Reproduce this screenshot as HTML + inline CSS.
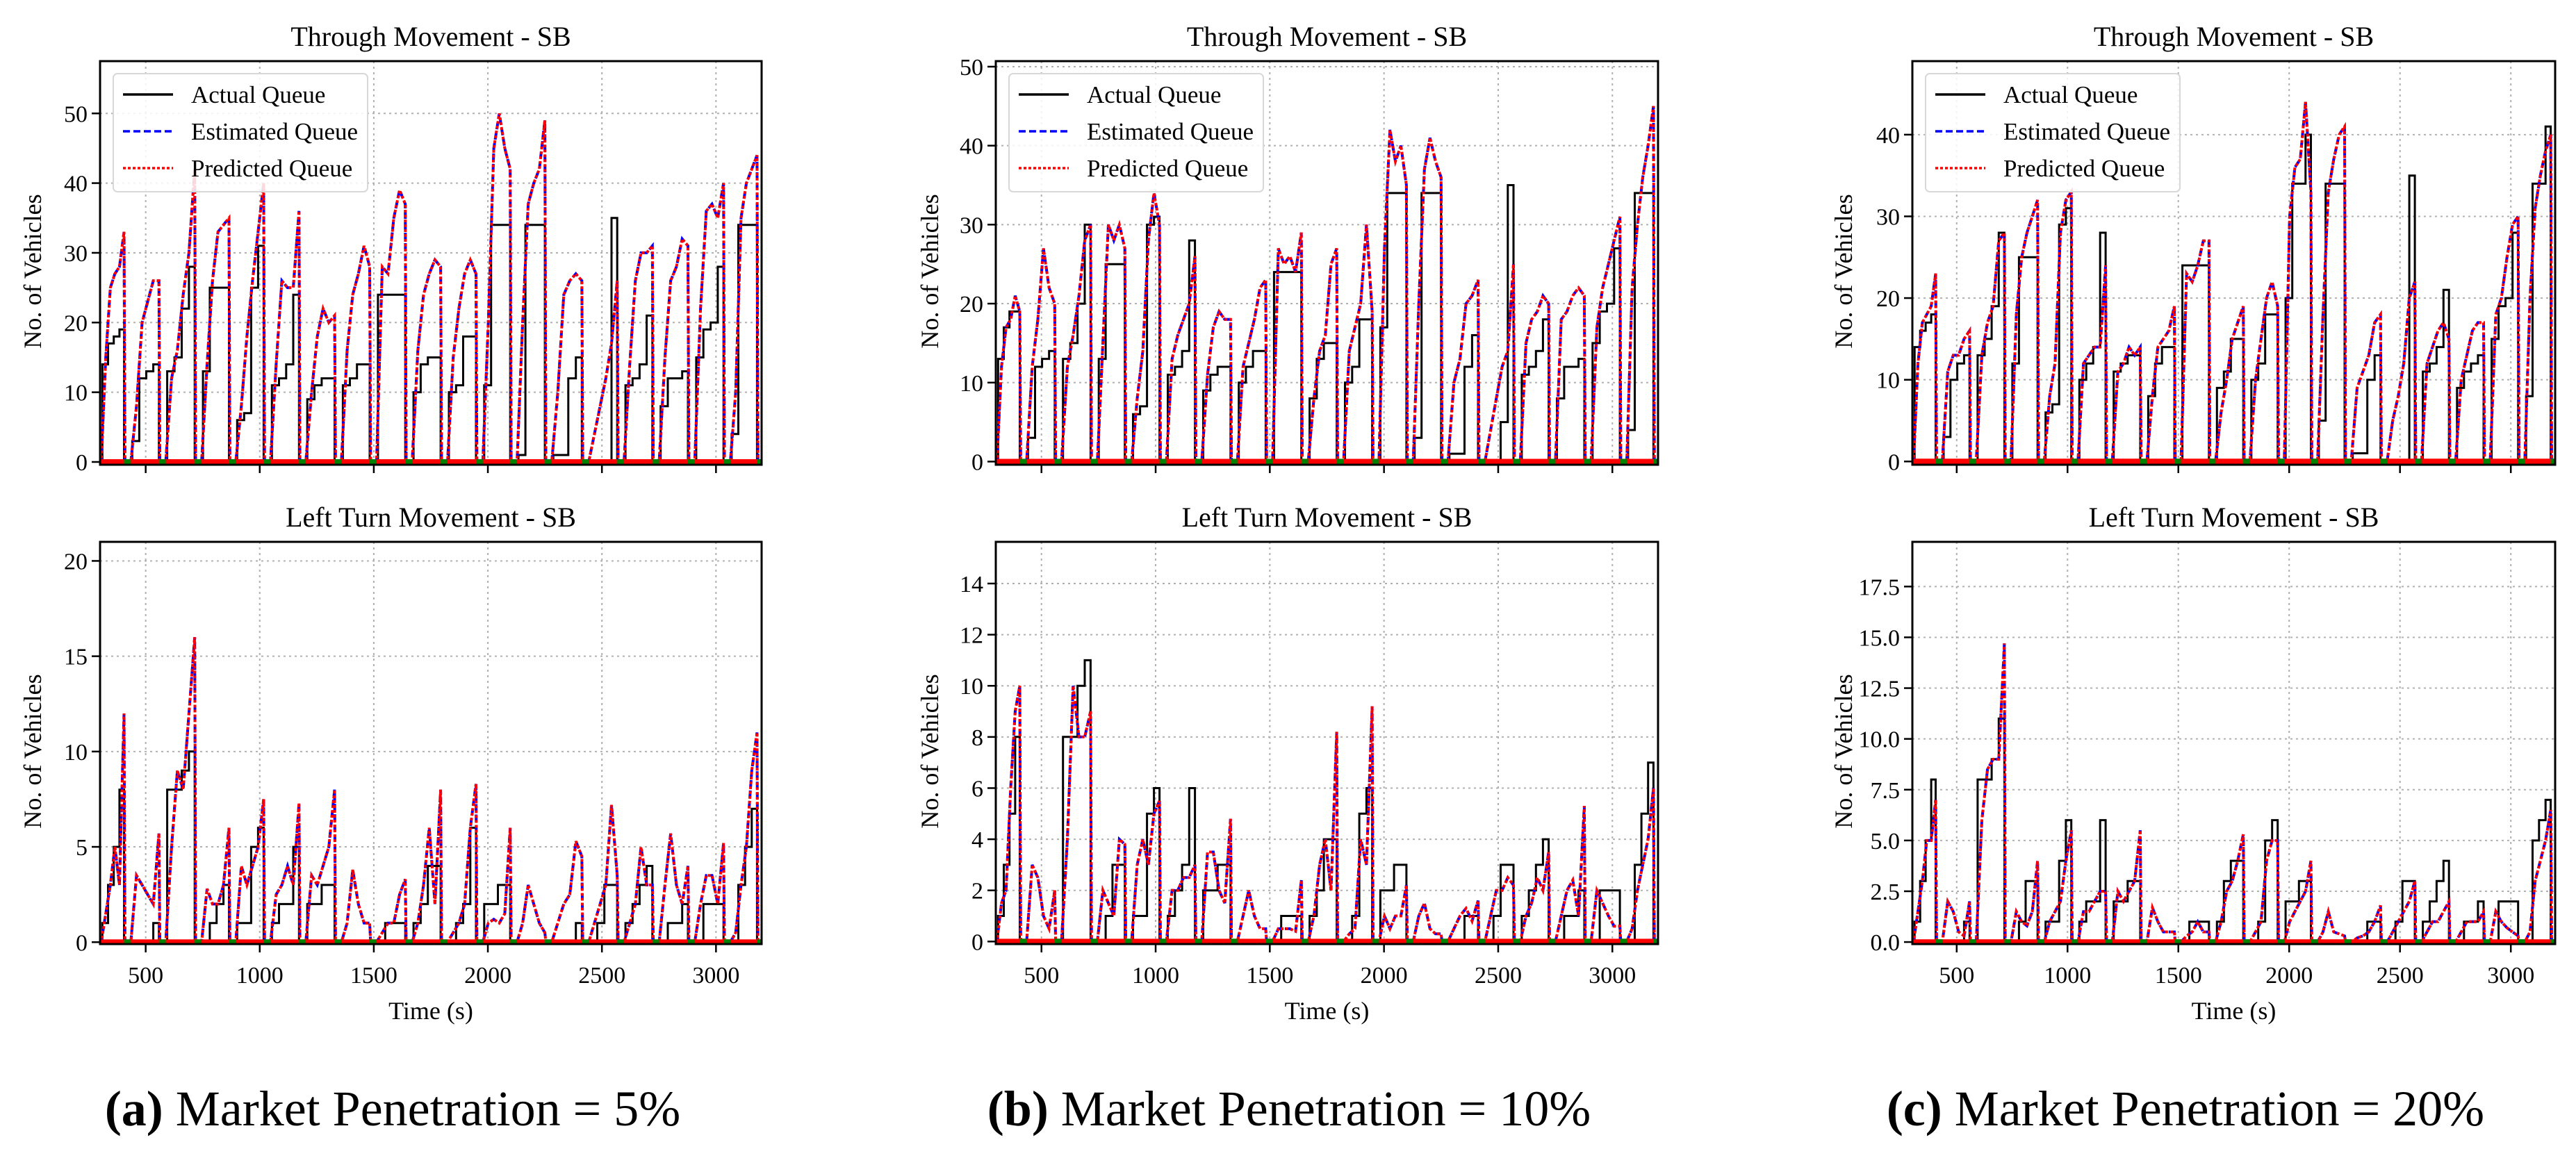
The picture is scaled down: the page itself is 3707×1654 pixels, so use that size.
<!DOCTYPE html>
<html><head><meta charset="utf-8"><style>
html,body{margin:0;padding:0;background:#fff;}
svg{display:block;font-family:"Liberation Serif",serif;}
</style></head><body>
<svg id="fig" width="3707" height="1654" viewBox="0 0 3707 1654" xmlns="http://www.w3.org/2000/svg">
<text x="565" y="1620" font-size="72" text-anchor="middle"><tspan font-weight="bold">(a)</tspan> Market Penetration = 5%</text>
<text x="1855" y="1620" font-size="72" text-anchor="middle"><tspan font-weight="bold">(b)</tspan> Market Penetration = 10%</text>
<text x="3145" y="1620" font-size="72" text-anchor="middle"><tspan font-weight="bold">(c)</tspan> Market Penetration = 20%</text>
</svg>
<script>
// shared signal timing (green start times, s)
const greenStarts = [405,558,715,865,1017,1172,1328,1482,1638,1793,1948,2098,2250,2412,2567,2721,2877,3033,3180];
const xTicks = [500,1000,1500,2000,2500,3000];

// Through movement, 5%
const actTopA = [[14,17,18,19],[3,12,13,14],[13,15,22,28],[13,25,25,25],[6,7,25,31],[11,12,14,24],[9,11,12,12],[11,12,14,14],[24,24,24,24],[10,14,15,15],[10,11,18,18],[11,34,34,34],[1,34,34,34],[1,1,12,15],[0,0,0,35],[11,12,14,21],[8,12,12,13],[15,19,20,28],[4,34,34,34]];
const estTopA = [[15,25,27,28,33],[8,20,23,26,26],[12,16,24,30,42],[14,26,33,34,35],[8,18,26,33,40],[14,26,25,25,36],[10,18,22,20,21],[16,24,27,31,28],[28,27,35,39,37],[16,24,27,29,28],[15,22,27,29,27],[20,45,50,45,42],[20,37,40,42,49],[10,24,26,27,26],[4,8,12,17,26],[14,26,30,30,31],[15,26,28,32,31],[22,36,37,35,40],[10,35,40,42,44]];
// Through movement, 10%
const actTopB = [[13,17,19,19],[3,12,13,14],[13,15,20,30],[13,25,25,25],[6,7,30,31],[11,12,14,28],[9,11,12,12],[10,12,14,14],[24,24,24,24],[8,13,15,15],[10,12,18,18],[17,34,34,34],[3,34,34,34],[1,1,12,16],[0,0,5,35],[11,12,14,18],[8,12,12,13],[15,19,20,27],[4,34,34,34]];
const estTopB = [[12,17,18,21,19],[12,18,27,22,20],[12,16,21,28,30],[15,30,28,30,27],[8,14,28,34,30],[13,16,18,20,26],[11,17,19,18,18],[12,15,18,22,23],[27,25,26,24,29],[8,14,16,25,27],[14,17,20,30,19],[27,42,38,40,35],[20,37,41,38,36],[10,13,20,21,23],[4,8,12,14,25],[15,18,19,21,20],[18,19,21,22,21],[17,22,25,28,31],[22,30,36,40,45]];
// Through movement, 20%
const actTopC = [[14,16,17,18],[3,10,12,13],[13,15,19,28],[12,25,25,25],[6,7,29,31],[10,12,14,28],[11,12,13,13],[8,12,14,14],[24,24,24,24],[9,11,15,15],[10,12,18,18],[20,34,34,40],[5,34,34,34],[1,1,10,13],[0,0,0,35],[11,12,14,21],[9,11,12,13],[15,19,20,28],[8,34,34,41]];
const estTopC = [[12,17,18,19,23],[11,13,13,15,16],[13,17,19,27,28],[18,25,28,30,32],[8,12,28,32,33],[12,13,14,14,24],[11,12,14,13,14],[8,14,15,16,19],[23,22,24,27,27],[6,10,15,17,19],[10,15,20,22,19],[30,36,37,44,33],[18,33,37,40,41],[9,11,13,17,18],[5,8,12,20,22],[12,14,16,17,15],[10,13,16,17,17],[18,20,25,29,30],[20,31,35,38,40]];
// Left turn, 5%
const actBotA = [[1,3,5,8],[0,0,0,1],[8,8,9,10],[0,1,2,3],[1,1,5,6],[1,2,2,5],[2,2,3,3],[0,0,0,0],[0,1,1,1],[1,2,4,4],[0,1,2,6],[2,2,3,3],[0,0,0,0],[0,0,0,1],[0,1,3,3],[1,2,3,4],[0,1,1,2],[0,2,2,2],[0,3,5,7]];
const estBotA = [[1.5,3,5,3,12],[3.5,3,2.5,2,5.7],[5,9,8,12,16],[2.8,2,2,3,6],[4,3,4,5,7.5],[2.5,3,4,3,7.3],[3.5,3,4,5,8],[1,3.8,2,1,1],[0.5,1,1,2.5,3.3],[1,3,6,2,8],[0.5,1,2,6,8.3],[1,1.2,1,1.5,6],[1,3,2,1,0.5],[1,2,2.5,5.3,4.5],[1,2,3,7.2,3.5],[1,2,5,3,3],[3,5.7,3,2,4],[2,3.5,3.5,2,5.2],[0.5,3,5,9,11]];
// Left turn, 10%
const actBotB = [[1,3,5,8],[0,0,0,0],[8,8,10,11],[0,1,3,3],[1,1,5,6],[1,2,3,6],[2,2,3,3],[0,0,0,0],[0,1,1,1],[1,2,4,4],[0,1,5,6],[2,2,3,3],[0,0,0,0],[0,0,1,1],[0,1,3,3],[1,2,3,4],[0,1,1,2],[0,2,2,2],[0,3,5,7]];
const estBotB = [[1.5,2,6,9,10],[3,2.5,1,0.5,2],[4,10,8,8,9],[2,1.5,1,4,3.8],[3,4,3,5,5.5],[2,2,2.5,2.5,3],[3.5,3.5,2,1.5,4.8],[1,2,1,0.5,0.5],[0.5,0.5,0.5,0.4,2.4],[1,3,4,2,8.2],[0.3,0.5,4,3,9.2],[1,0.5,1,1,2.2],[1,1.5,0.5,0.3,0.3],[0.5,1,1.3,0.8,1.6],[1,2,2,2.5,2.2],[1,1.5,2.5,2,3.5],[1,2,2.4,1,5.3],[2,1.5,1,0.6,0.6],[0.5,2,3,4,6]];
// Left turn, 20%
const actBotC = [[1,3,5,8],[0,0,0,1],[8,8,9,11],[0,1,3,3],[1,1,4,6],[1,2,2,6],[2,2,3,3],[0,0,0,0],[0,1,1,1],[1,3,4,4],[0,1,5,6],[2,2,3,3],[0,0,0,0],[0,0,1,1],[0,1,3,3],[1,2,3,4],[0,1,1,2],[0,2,2,2],[0,5,6,7]];
const estBotC = [[1.5,3,5,5,7],[2,1.5,0.5,0.3,2],[6,8.5,9,9,14.7],[1.5,1,0.8,1.5,4],[1,1.5,2,4,5.5],[1.5,1.5,2,2.5,2.5],[2.5,2,2.5,3,5.5],[1.7,1,0.5,0.5,0.5],[0.3,0.5,1,0.5,0.5],[1,2.5,3,4,5.3],[0.5,1,4,5,5],[1,1.5,2,2.5,4],[0.5,1.5,0.5,0.4,0.3],[0.2,0.3,0.5,1,1.8],[0.5,1,1.5,2,3],[0.5,1,1,1.5,2],[0.5,1,1,1,1.5],[1.5,1,0.7,0.5,0.3],[0.5,3,4,5,6.5]];
// predicted queues track the estimates closely
const predTopA = estTopA.map(r => r.slice());
const predTopB = estTopB.map(r => r.slice());
const predTopC = estTopC.map(r => r.slice());
const predBotA = estBotA.map(r => r.slice());
const predBotB = estBotB.map(r => r.slice());
const predBotC = estBotC.map(r => r.slice());

const yTicksTopAB = [0,10,20,30,40,50];
const yTicksTopC = [0,10,20,30,40];
const yTicksBotA = [0,5,10,15,20];
const yTicksBotB = [0,2,4,6,8,10,12,14];
const yTicksBotC = [0,2.5,5,7.5,10,12.5,15,17.5];

const NS = "http://www.w3.org/2000/svg";
const svg = document.getElementById('fig');
function mk(tag, attrs, parent){ const e=document.createElementNS(NS,tag); for(const k in attrs) e.setAttribute(k,attrs[k]); (parent||svg).appendChild(e); return e; }

const panels = [
 {id:'top-a',L:144,R:1096,T:88,B:669,ymin:-0.4,ymax:57.5,yt:yTicksTopAB,fmt:v=>String(v),act:actTopA,est:estTopA,pred:predTopA,title:'Through Movement - SB',legend:true,xl:false,ylx:47},
 {id:'top-b',L:1433,R:2386,T:88,B:669,ymin:-0.4,ymax:50.7,yt:yTicksTopAB,fmt:v=>String(v),act:actTopB,est:estTopB,pred:predTopB,title:'Through Movement - SB',legend:true,xl:false,ylx:1338},
 {id:'top-c',L:2752,R:3677,T:88,B:669,ymin:-0.4,ymax:49,yt:yTicksTopC,fmt:v=>String(v),act:actTopC,est:estTopC,pred:predTopC,title:'Through Movement - SB',legend:true,xl:false,ylx:2653},
 {id:'bottom-a',L:144,R:1096,T:780,B:1359,ymin:-0.1,ymax:21,yt:yTicksBotA,fmt:v=>String(v),act:actBotA,est:estBotA,pred:predBotA,title:'Left Turn Movement - SB',legend:false,xl:true,ylx:47},
 {id:'bottom-b',L:1433,R:2386,T:780,B:1359,ymin:-0.1,ymax:15.63,yt:yTicksBotB,fmt:v=>String(v),act:actBotB,est:estBotB,pred:predBotB,title:'Left Turn Movement - SB',legend:false,xl:true,ylx:1338},
 {id:'bottom-c',L:2752,R:3677,T:780,B:1359,ymin:-0.1,ymax:19.7,yt:yTicksBotC,fmt:v=>v.toFixed(1),act:actBotC,est:estBotC,pred:predBotC,title:'Left Turn Movement - SB',legend:false,xl:true,ylx:2653}
];

panels.forEach(p=>{
  const g = mk('g',{});
  
  
  const xs = t => p.L + (t-300)/(3200-300)*(p.R-p.L);
  const ys = v => p.B - (v-p.ymin)/(p.ymax-p.ymin)*(p.B-p.T);
  const clip = mk('clipPath',{id:'clip-'+p.id},g);
  mk('rect',{x:p.L,y:p.T,width:p.R-p.L,height:p.B-p.T},clip);
  xTicks.forEach(t=>{
    const l = mk('line',{x1:xs(t),x2:xs(t),y1:p.T,y2:p.B,stroke:'#b0b0b0','stroke-width':2,'stroke-dasharray':'3,5'},g);
    
    
    const tk = mk('line',{x1:xs(t),x2:xs(t),y1:p.B,y2:p.B+12,stroke:'#000','stroke-width':2.5},g);
    
    
    if(p.xl){
      const tx = mk('text',{x:xs(t),y:p.B+56,'font-size':34,'text-anchor':'middle'},g);
      tx.textContent = t;
      
      
    }
  });
  p.yt.forEach(v=>{
    const l = mk('line',{x1:p.L,x2:p.R,y1:ys(v),y2:ys(v),stroke:'#b0b0b0','stroke-width':2,'stroke-dasharray':'3,5'},g);
    
    
    const tk = mk('line',{x1:p.L-12,x2:p.L,y1:ys(v),y2:ys(v),stroke:'#000','stroke-width':2.5},g);
    
    
    const tx = mk('text',{x:p.L-18,y:ys(v)+12,'font-size':34,'text-anchor':'end'},g);
    tx.textContent = p.fmt(v);
    
    
  });
  const sg = mk('g',{'clip-path':'url(#clip-'+p.id+')'},g);
  let aPts=[[xs(300),ys(0)]], ePts=[[xs(300),ys(0)]], rPts=[[xs(300),ys(0)]];
  greenStarts.forEach((G,i)=>{
    const s = i===0 ? 305 : greenStarts[i-1]+30;
    const d = G - s;
    const a = p.act[i], e = p.est[i], r = p.pred[i];
    aPts.push([xs(s),ys(0)]);
    let prev = 0;
    a.forEach((v,k)=>{ const t = s + d*(k*0.25+0.05); aPts.push([xs(t),ys(prev)]); aPts.push([xs(t),ys(v)]); prev=v; });
    aPts.push([xs(G),ys(prev)]); aPts.push([xs(G),ys(0)]);
    ePts.push([xs(s),ys(0)]); rPts.push([xs(s),ys(0)]);
    e.forEach((v,k)=>{ ePts.push([xs(s+d*(k+1)/5),ys(v)]); });
    r.forEach((v,k)=>{ rPts.push([xs(s+d*(k+1)/5),ys(v)]); });
    ePts.push([xs(G+4),ys(0)]); rPts.push([xs(G+4),ys(0)]);
  });
  const ps = pts => pts.map(q=>q[0].toFixed(1)+','+q[1].toFixed(1)).join(' ');
  const la = mk('polyline',{points:ps(aPts),fill:'none',stroke:'#000','stroke-width':3},sg);
  
  
  const le = mk('polyline',{points:ps(ePts),fill:'none',stroke:'#0000ff','stroke-width':4,'stroke-dasharray':'10,5'},sg);
  
  
  const lr = mk('polyline',{points:ps(rPts),fill:'none',stroke:'#ff0000','stroke-width':4,'stroke-dasharray':'4,3'},sg);
  
  
  const band = mk('line',{x1:p.L,x2:p.R,y1:ys(0),y2:ys(0),stroke:'#ff0000','stroke-width':8},sg);
  
  
  greenStarts.forEach(G=>{
    const gr = mk('rect',{x:xs(G),y:ys(0)-4,width:xs(G+30)-xs(G),height:8,fill:'#008000'},sg);
    
    
  });
  const fr = mk('rect',{x:p.L,y:p.T,width:p.R-p.L,height:p.B-p.T,fill:'none',stroke:'#000','stroke-width':3},g);
  
  
  const ti = mk('text',{x:(p.L+p.R)/2,y:p.T-22,'font-size':40,'text-anchor':'middle'},g);
  ti.textContent = p.title;
  
  
  const cy = (p.T+p.B)/2;
  const yl = mk('text',{x:p.ylx,y:cy,'font-size':36,'text-anchor':'middle',transform:'rotate(-90 '+(p.ylx+12)+' '+cy+')'},g);
  yl.textContent = 'No. of Vehicles';
  
  
  if(p.xl){
    const xl = mk('text',{x:(p.L+p.R)/2,y:p.B+108,'font-size':36,'text-anchor':'middle'},g);
    xl.textContent = 'Time (s)';
    
    
  }
  if(p.legend){
    const lg = mk('g',{},g);
    
    
    const bx = p.L+19;
    mk('rect',{x:bx,y:106,width:366,height:170,rx:6,fill:'#fff','fill-opacity':0.85,stroke:'#d8d8d8','stroke-width':2},lg);
    const items = [['Actual Queue','#000',null],['Estimated Queue','#0000ff','10,5'],['Predicted Queue','#ff0000','4,3']];
    items.forEach((it,k)=>{
      const y = 136 + k*53;
      const e = mk('g',{},lg);
      
      
      const ln = mk('line',{x1:bx+14,x2:bx+86,y1:y,y2:y,stroke:it[1],'stroke-width':3.5},e);
      if(it[2]) ln.setAttribute('stroke-dasharray',it[2]);
      const t = mk('text',{x:bx+112,y:y+12,'font-size':35},e);
      t.textContent = it[0];
    });
  }
});
</script>
</body></html>
